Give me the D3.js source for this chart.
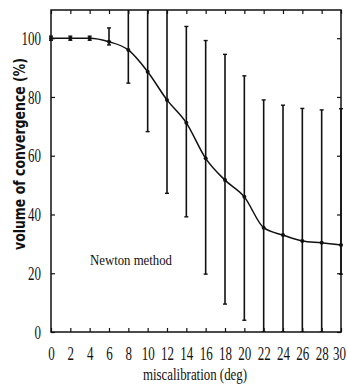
<!DOCTYPE html>
<html>
<head>
<meta charset="utf-8">
<script src="https://cdn.jsdelivr.net/npm/d3@7"></script>
<style>
  body { margin: 0; background: #fff; }
  svg text { font-family: "Liberation Serif", "DejaVu Serif", serif; fill: #111; }
</style>
</head>
<body>
<div id="chart"></div>
<script>
// Data
const miscal = [0, 2, 4, 6, 8, 10, 12, 14, 16, 18, 20, 22, 24, 26, 28, 30]
const meanConv = [100, 100, 100, 98.8, 96, 88.6, 79, 71.2, 59.1, 51.7, 46, 35.5, 33, 31, 30.4, 29.6]
const lowConv = [99.3, 99.3, 99.3, 97.7, 84.7, 68.2, 47.2, 39.2, 19.7, 9.5, 4, 0, 0, 0, 0, 19.7]
const highConv = [100.7, 100.7, 100.7, 103.5, 115, 115, 115, 104, 99.2, 94.5, 87.2, 79, 77.2, 76.1, 75.6, 76]
const yTicks = [0, 20, 40, 60, 80, 100]
const xTicks = [0, 2, 4, 6, 8, 10, 12, 14, 16, 18, 20, 22, 24, 26, 28, 30]

// Dimensions
const width = 348
const height = 390
const plotLeft = 51
const plotRight = 341
const plotTop = 10
const plotBottom = 332
const tickLen = 4
const capHalf = 2
const tickFont = 13
const tickStretch = 1.45   // tall, narrow digits of the scan
const ink = '#111'

const svg = d3.select('#chart')
    .append('svg')
    .attr('width', width)
    .attr('height', height)

const x = d3.scaleLinear().domain([0, 30]).range([plotLeft, plotRight])
const y = d3.scaleLinear().domain([0, 109.6]).range([plotBottom, plotTop])

svg.append('clipPath').attr('id', 'plot-clip')
    .append('rect')
    .attr('x', plotLeft - 3).attr('y', plotTop)
    .attr('width', plotRight - plotLeft + 6).attr('height', plotBottom - plotTop)

// Axes: bottom/left with labels, top/right just ticks, all ticks inward
const xBottom = d3.axisBottom(x).tickValues(xTicks).tickSizeInner(-tickLen).tickSizeOuter(0)
const xTop = d3.axisTop(x).tickValues(xTicks).tickSizeInner(-tickLen).tickSizeOuter(0).tickFormat('')
const yLeft = d3.axisLeft(y).tickValues(yTicks).tickSizeInner(-tickLen).tickSizeOuter(0).tickPadding(10)
const yRight = d3.axisRight(y).tickValues(yTicks).tickSizeInner(-tickLen).tickSizeOuter(0).tickFormat('')

const gx = svg.append('g').attr('transform', `translate(0,${plotBottom})`).call(xBottom)
svg.append('g').attr('transform', `translate(0,${plotTop})`).call(xTop)
const gy = svg.append('g').attr('transform', `translate(${plotLeft},0)`).call(yLeft)
svg.append('g').attr('transform', `translate(${plotRight},0)`).call(yRight)

svg.selectAll('.domain').remove()
svg.selectAll('.tick line').attr('stroke', ink).attr('stroke-width', 1.2)
svg.selectAll('.tick text')
    .attr('font-size', tickFont)
    .attr('font-family', '"Liberation Serif", serif')
    .attr('fill', ink)
    .attr('transform', `scale(1,${tickStretch})`)
gx.selectAll('text').attr('y', 28 / tickStretch).attr('dy', 0)
// last label sits right at the page edge
gx.selectAll('.tick').filter(d => d === 30).select('text').attr('x', -2)

// Frame
svg.append('rect')
    .attr('x', plotLeft).attr('y', plotTop)
    .attr('width', plotRight - plotLeft).attr('height', plotBottom - plotTop)
    .attr('fill', 'none').attr('stroke', ink).attr('stroke-width', 1.5)

const plot = svg.append('g').attr('clip-path', 'url(#plot-clip)')

// Error bars
const bars = plot.selectAll('.ebar').data(miscal).enter().append('g').attr('class', 'ebar')
bars.append('line')
    .attr('x1', d => x(d)).attr('x2', d => x(d))
    .attr('y1', (d, i) => y(lowConv[i])).attr('y2', (d, i) => y(highConv[i]))
    .attr('stroke', ink).attr('stroke-width', 1.6)
bars.append('line')
    .attr('x1', d => x(d) - capHalf).attr('x2', d => x(d) + capHalf)
    .attr('y1', (d, i) => y(highConv[i])).attr('y2', (d, i) => y(highConv[i]))
    .attr('stroke', ink).attr('stroke-width', 1.4)
bars.append('line')
    .attr('x1', d => x(d) - capHalf).attr('x2', d => x(d) + capHalf)
    .attr('y1', (d, i) => y(lowConv[i])).attr('y2', (d, i) => y(lowConv[i]))
    .attr('stroke', ink).attr('stroke-width', 1.4)

// Mean curve
const line = d3.line()
    .x((d, i) => x(miscal[i]))
    .y(d => y(d))
    .curve(d3.curveMonotoneX)

plot.append('path')
    .datum(meanConv)
    .attr('d', line)
    .attr('fill', 'none')
    .attr('stroke', ink)
    .attr('stroke-width', 1.5)

plot.selectAll('.pt').data(meanConv).enter().append('circle')
    .attr('class', 'pt')
    .attr('cx', (d, i) => x(miscal[i]))
    .attr('cy', d => y(d))
    .attr('r', 2)
    .attr('fill', ink)

// Labels
svg.append('text')
    .attr('x', 195).attr('y', 380)
    .attr('text-anchor', 'middle')
    .attr('font-size', 16)
    .attr('textLength', 104)
    .attr('lengthAdjust', 'spacingAndGlyphs')
    .text('miscalibration (deg)')

svg.append('text')
    .attr('transform', 'translate(25,154) rotate(-90)')
    .attr('text-anchor', 'middle')
    .attr('font-size', 15)
    .attr('font-weight', 'bold')
    .style('font-family', '"DejaVu Sans", sans-serif')
    .attr('textLength', 192)
    .attr('lengthAdjust', 'spacingAndGlyphs')
    .text('volume of convergence (%)')

svg.append('text')
    .attr('x', 90).attr('y', 265)
    .attr('font-size', 15)
    .attr('textLength', 82)
    .attr('lengthAdjust', 'spacingAndGlyphs')
    .text('Newton method')
</script>
</body>
</html>
